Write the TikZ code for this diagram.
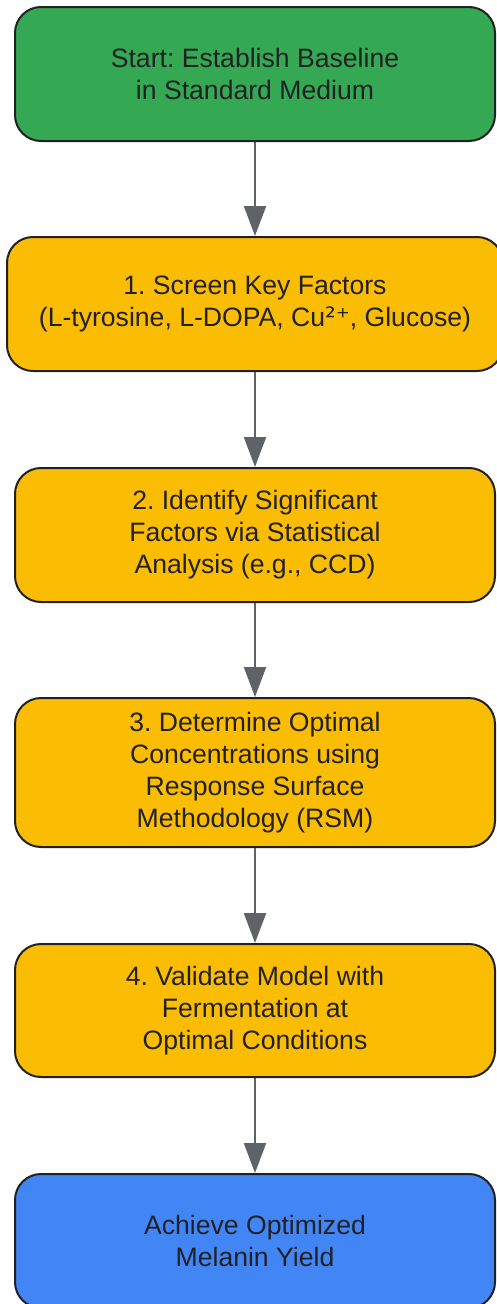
\documentclass[tikz,border=0pt]{standalone}
\usepackage{fontspec}
\setmainfont{Liberation Sans}
\newfontfamily\supfont{DejaVu Sans}
\frenchspacing
\usetikzlibrary{arrows.meta}
\definecolor{ink}{HTML}{202124}
\definecolor{edge}{HTML}{5F6368}
\definecolor{startfill}{HTML}{34A853}
\definecolor{stepfill}{HTML}{FBBC04}
\definecolor{endfill}{HTML}{4285F4}

\begin{document}
\begin{tikzpicture}[x=1pt,y=-1pt,
  box/.style={draw=ink,line width=2pt,rounded corners=26pt,minimum width=480pt,
    inner sep=0pt,align=center,text=ink,font=\fontsize{26.6}{32}\selectfont},
  flow/.style={draw=edge,line width=2.2pt,-{Triangle[length=30pt,width=22pt]}}]
\useasboundingbox (0,0) rectangle (497,1304);
\node[box,fill=startfill,minimum height=134pt] (s0) at (255,74) {Start: Establish Baseline\\in Standard Medium};
\node[box,fill=stepfill,minimum height=134pt,minimum width=496pt] (s1) at (255,304) {1. Screen Key Factors\\(L-tyrosine, L-DOPA, Cu{\supfont ²⁺}, Glucose)};
\foreach \n/\y/\h/\lab in {%
  2/535/134/{2. Identify Significant\\Factors via Statistical\\Analysis (e.g., CCD)},
  3/772.5/149/{3. Determine Optimal\\Concentrations using\\Response Surface\\Methodology (RSM)},
  4/1010.5/133/{4. Validate Model with\\Fermentation at\\Optimal Conditions}}{
  \node[box,fill=stepfill,minimum height=\h pt] (s\n) at (255,\y) {\lab};
}
\node[box,fill=endfill,minimum height=134pt] (s5) at (255,1241) {Achieve Optimized\\Melanin Yield};
\foreach \a/\b in {0/1,1/2,2/3,3/4,4/5}
  \draw[flow] (s\a) -- (s\b);
\end{tikzpicture}
\end{document}
